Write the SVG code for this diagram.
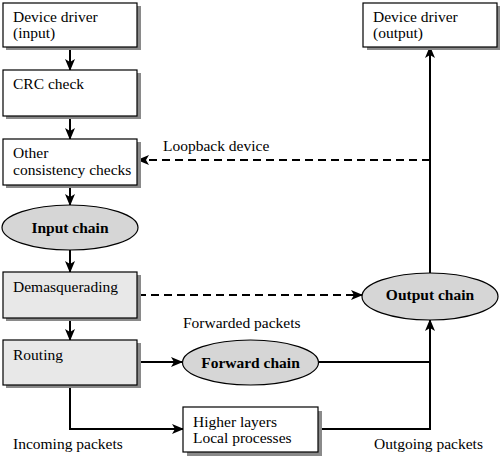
<svg xmlns="http://www.w3.org/2000/svg" width="500" height="459" viewBox="0 0 500 459">
<style>
text{font-family:"Liberation Serif","Times New Roman",serif;font-size:15.5px;fill:#000}
.b{font-weight:bold;text-anchor:middle}
.box{fill:#fff;stroke:#000;stroke-width:1.2}
.gbox{fill:#e8e8e8;stroke:#000;stroke-width:1.2}
.sh{fill:#8a8a8a}
.ell{fill:#d6d6d6;stroke:#000;stroke-width:1.2}
.c{fill:none;stroke:#000;stroke-width:2}
.d{fill:none;stroke:#000;stroke-width:2;stroke-dasharray:8 5}
</style>
<defs>
<marker id="a" viewBox="0 0 12 10" refX="11" refY="5" markerWidth="12" markerHeight="10" markerUnits="userSpaceOnUse" orient="auto">
<path d="M0,0 L12,5 L0,10 L3,5 Z" fill="#000"/>
</marker>
</defs>
<rect width="500" height="459" fill="#fff"/>
<g id="connectors">
<path class="c" d="M70 47 V70" marker-end="url(#a)"/>
<path class="c" d="M70 116 V139" marker-end="url(#a)"/>
<path class="c" d="M70 185 V205" marker-end="url(#a)"/>
<path class="c" d="M70 250 V272" marker-end="url(#a)"/>
<path class="c" d="M70 318 V340" marker-end="url(#a)"/>
<path class="c" d="M137 362 H182" marker-end="url(#a)"/>
<path class="c" d="M70 385 V429 H183" marker-end="url(#a)"/>
<path class="c" d="M319 362 H430"/>
<path class="c" d="M318 429 H430 V320" marker-end="url(#a)"/>
<path class="c" d="M430 273 V47" marker-end="url(#a)"/>
<path class="d" d="M430 160 H138" marker-end="url(#a)"/>
<path class="d" d="M138 295 H362" marker-end="url(#a)"/>
</g>
<g id="dev-in">
<rect class="sh" x="6" y="6" width="135" height="44"/>
<rect class="box" x="3" y="3" width="134" height="44"/>
<text x="13" y="22">Device driver</text>
<text x="13" y="38">(input)</text>
</g>
<g id="crc">
<rect class="sh" x="6" y="73" width="135" height="46"/>
<rect class="box" x="3" y="70" width="134" height="46"/>
<text x="13" y="89">CRC check</text>
</g>
<g id="other">
<rect class="sh" x="6" y="142" width="135" height="46"/>
<rect class="box" x="3" y="139" width="134" height="46"/>
<text x="13" y="158">Other</text>
<text x="13" y="175">consistency checks</text>
</g>
<g id="input-chain">
<ellipse class="ell" cx="70" cy="227.5" rx="68" ry="22.5"/>
<text class="b" x="70" y="233">Input chain</text>
</g>
<g id="demasq">
<rect class="sh" x="6" y="275" width="135" height="46"/>
<rect class="gbox" x="3" y="272" width="134" height="46"/>
<text x="13" y="292">Demasquerading</text>
</g>
<g id="routing">
<rect class="sh" x="6" y="343" width="135" height="45"/>
<rect class="gbox" x="3" y="340" width="134" height="45"/>
<text x="13" y="360">Routing</text>
</g>
<g id="forward-chain">
<ellipse class="ell" cx="250.5" cy="362.5" rx="68" ry="22.5"/>
<text class="b" x="250.5" y="367.5">Forward chain</text>
</g>
<g id="higher">
<rect class="sh" x="187" y="411" width="135" height="45"/>
<rect class="box" x="183" y="407" width="135" height="45"/>
<text x="193" y="427">Higher layers</text>
<text x="193" y="443">Local processes</text>
</g>
<g id="output-chain">
<ellipse class="ell" cx="430" cy="296.5" rx="68" ry="23.5"/>
<text class="b" x="430" y="300">Output chain</text>
</g>
<g id="dev-out">
<rect class="sh" x="367" y="6" width="135" height="44"/>
<rect class="box" x="363" y="3" width="134" height="44"/>
<text x="373" y="22">Device driver</text>
<text x="373" y="38">(output)</text>
</g>
<g id="labels">
<text x="163" y="151">Loopback device</text>
<text x="183" y="328">Forwarded packets</text>
<text x="13" y="449">Incoming packets</text>
<text x="374" y="449">Outgoing packets</text>
</g>
</svg>
